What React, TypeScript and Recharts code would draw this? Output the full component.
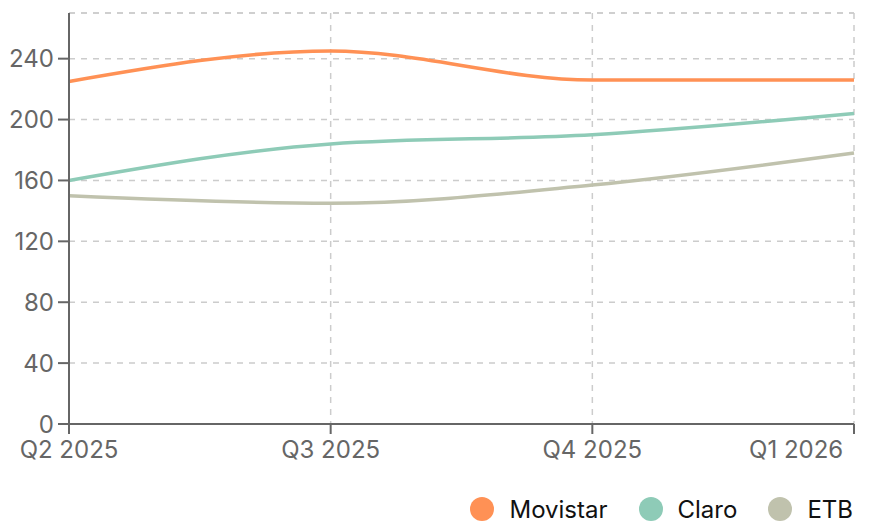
import { LineChart, Line, XAxis, YAxis, CartesianGrid, Legend, ReferenceLine } from "recharts";

const quarters = ["Q2 2025", "Q3 2025", "Q4 2025", "Q1 2026"];
const movistar = [225, 245, 226, 226];
const claro = [160, 184, 190, 204];
const etb = [150, 145, 157, 178];
const yTicks = [0, 40, 80, 120, 160, 200, 240];
const yMax = 270;

const seriesList = [
  { key: "Movistar", color: "#ff9155", values: movistar },
  { key: "Claro", color: "#8ecbb7", values: claro },
  { key: "ETB", color: "#c0c2ad", values: etb },
];

const data = quarters.map((q, i) => {
  const row: Record<string, string | number> = { quarter: q };
  seriesList.forEach((s) => (row[s.key] = s.values[i]));
  return row;
});

const font = "Inter, 'Noto Sans', sans-serif";

function XTick(props: any) {
  const { x, y, payload, index } = props;
  const last = index === quarters.length - 1;
  return (
    <text
      x={x}
      y={y + 22}
      textAnchor={last ? "end" : "middle"}
      fill="#666"
      fontSize={24}
      fontFamily={font}
    >
      {payload.value}
    </text>
  );
}

function LegendContent() {
  return (
    <div
      style={{
        height: 52,
        boxSizing: "border-box",
        paddingTop: 26,
        display: "flex",
        justifyContent: "flex-end",
        alignItems: "center",
        fontFamily: font,
        fontSize: 24,
        color: "#111",
        paddingRight: 1,
      }}
    >
      {seriesList.map((s) => (
        <div key={s.key} style={{ display: "flex", alignItems: "center", marginLeft: 31, height: 26 }}>
          <span
            style={{
              width: 24,
              height: 24,
              borderRadius: 12,
              background: s.color,
              display: "inline-block",
              marginRight: 15,
            }}
          />
          <span>{s.key}</span>
        </div>
      ))}
    </div>
  );
}

export default function App() {
  return (
    <div style={{ position: "absolute", left: 0, top: 0 }}>
      <LineChart
        width={871}
        height={522}
        data={data}
        margin={{ top: 13, right: 17, left: 0, bottom: 0 }}
      >
        <CartesianGrid strokeDasharray="6 6" stroke="#ccc" strokeWidth={1.5} />
        <ReferenceLine y={yMax} stroke="#ccc" strokeDasharray="6 6" strokeWidth={1.5} />
        <XAxis
          dataKey="quarter"
          tick={<XTick />}
          axisLine={{ stroke: "#666", strokeWidth: 2 }}
          tickLine={{ stroke: "#666", strokeWidth: 2 }}
          tickSize={10}
          height={46}
        />
        <YAxis
          domain={[0, yMax]}
          ticks={yTicks}
          axisLine={{ stroke: "#666", strokeWidth: 2 }}
          tickLine={{ stroke: "#666", strokeWidth: 2 }}
          tick={{ fill: "#666", fontSize: 24, fontFamily: font }}
          width={69}
          tickSize={11}
          tickMargin={4}
        />
        <Legend verticalAlign="bottom" height={52} content={<LegendContent />} />
        {seriesList.map((s) => (
          <Line
            key={s.key}
            type="monotone"
            dataKey={s.key}
            stroke={s.color}
            strokeWidth={3.5}
            dot={false}
            isAnimationActive={false}
          />
        ))}
      </LineChart>
    </div>
  );
}
